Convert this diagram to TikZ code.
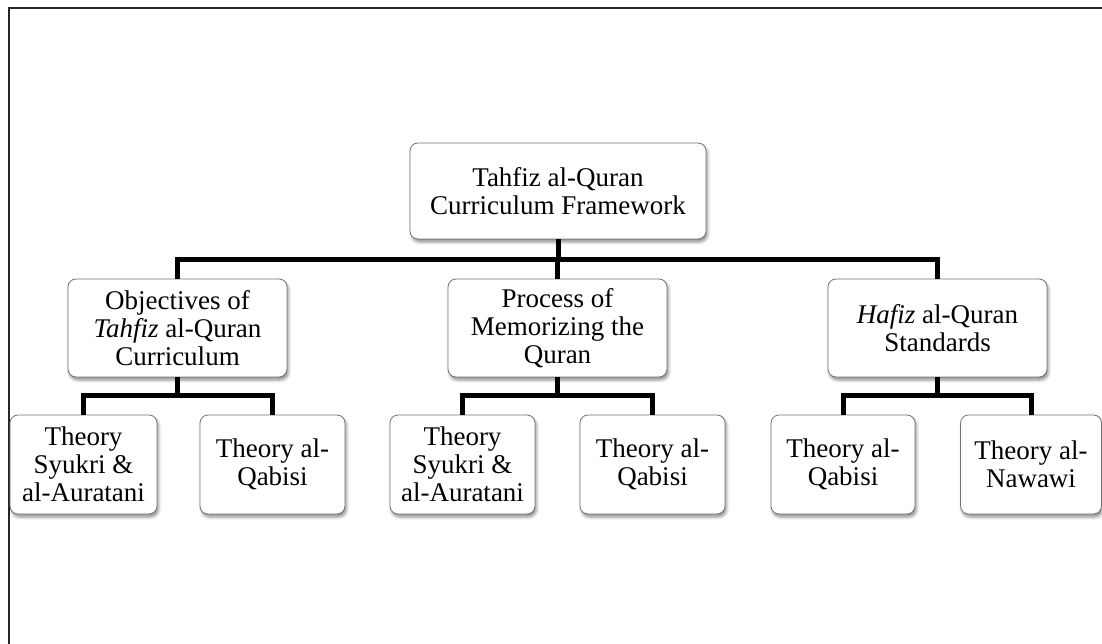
\documentclass[tikz,border=0pt]{standalone}
\usepackage{fontspec}
\setmainfont{Liberation Serif}
\usetikzlibrary{shadows.blur}

\tikzset{
  box/.style={
    draw=black!55, line width=0.8pt, fill=white,
    rounded corners=8pt, align=center, inner sep=2pt,
    font=\fontsize{27}{28}\selectfont,
    blur shadow={shadow xshift=1.5pt, shadow yshift=-3pt,
                 shadow blur radius=3pt, shadow opacity=45}
  },
  rootbox/.style={box, minimum width=296pt, minimum height=96pt},
  midbox/.style={box, minimum width=219pt, minimum height=98pt},
  leafbox/.style={box, minimum width=145pt, minimum height=99pt},
  conn/.style={line width=5pt, black, line join=miter, line cap=butt},
  frame/.style={line width=1.5pt, black!85}
}

\begin{document}
\begin{tikzpicture}[x=1pt, y=-1pt]
  \useasboundingbox (0,0) rectangle (1102,644);

  % page frame (top and left rules)
  \coordinate (fr0) at (9,644);
  \coordinate (fr1) at (9,8);
  \coordinate (fr2) at (1102,8);
  \draw[frame] (fr0) -- (fr1) -- (fr2);

  % hierarchy levels
  \node[rootbox] (root) at (558,191) {Tahfiz al-Quran\\Curriculum Framework};

  \node[midbox] (obj) at (177.5,328) {Objectives of\\\textit{Tahfiz} al-Quran\\Curriculum};
  \node[midbox] (proc) at (557.5,328) {Process of\\Memorizing the\\Quran};
  \node[midbox] (std) at (937.5,328) {\textit{Hafiz} al-Quran\\Standards};

  \node[leafbox, minimum width=147pt] (obj1) at (83.5,464.5) {Theory\\Syukri \&\\al-Auratani};
  \node[leafbox] (obj2) at (272.5,464.5) {Theory al-\\Qabisi};
  \node[leafbox] (proc1) at (462.5,464.5) {Theory\\Syukri \&\\al-Auratani};
  \node[leafbox] (proc2) at (652.5,464.5) {Theory al-\\Qabisi};
  \node[leafbox, minimum width=144pt] (std1) at (843,464.5) {Theory al-\\Qabisi};
  \node[leafbox, minimum width=141pt] (std2) at (1031,464.5) {Theory al-\\Nawawi};

  % bus heights
  \coordinate (bus0) at (0,259.5);
  \coordinate (bus1) at (0,395.5);

  % root to first level
  \draw[conn] (root.south) -- (root.south |- bus0);
  \draw[conn] (obj.north) -- (obj.north |- bus0) -- (std.north |- bus0) -- (std.north);
  \draw[conn] (proc.north) -- (proc.north |- bus0);

  % first level to leaves
  \foreach \p/\a/\b in {obj/obj1/obj2, proc/proc1/proc2, std/std1/std2} {
    \draw[conn] (\p.south) -- (\p.south |- bus1);
    \draw[conn] (\a.north) -- (\a.north |- bus1) -- (\b.north |- bus1) -- (\b.north);
  }
\end{tikzpicture}
\end{document}
